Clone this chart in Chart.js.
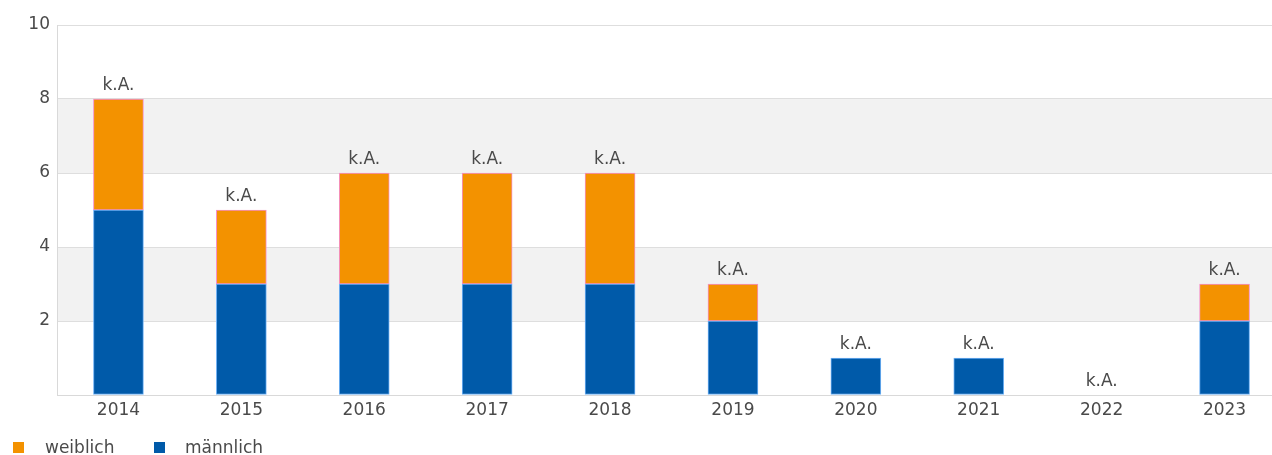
<!DOCTYPE html>
<html lang="de">
<head>
<meta charset="utf-8">
<script src="https://cdn.jsdelivr.net/npm/chart.js@4/dist/chart.umd.min.js"></script>
<style>
  html, body { margin: 0; padding: 0; background: #fff; overflow: hidden; width: 1272px; height: 455px; }
  #wrap { position: relative; width: 1272px; height: 455px; }
  canvas { position: absolute; left: 0; top: 0; }
  .legend { position: absolute; top: 436px; left: 0; font: 17px "DejaVu Sans", sans-serif; color: #4a4a4a; }
  .legend span.item { position: absolute; white-space: nowrap; line-height: 22px; }
  .legend i { position: absolute; top: 6px; width: 11px; height: 11px; }
</style>
</head>
<body>
<div id="wrap">
  <canvas id="chart" width="1286" height="455"></canvas>
  <div class="legend" id="legend"></div>
</div>
<script>
const YEARS = ["2014", "2015", "2016", "2017", "2018", "2019", "2020", "2021", "2022", "2023"];
const WEIBLICH = [3, 2, 3, 3, 3, 1, 0, 0, 0, 1];
const MAENNLICH = [5, 3, 3, 3, 3, 2, 1, 1, 0, 2];
const Y_TICKS = [0, 2, 4, 6, 8, 10];
const NOTE = "k.A.";

const ORANGE = "#f39200";
const BLUE = "#005aa9";
const TEXT = "#4a4a4a";
const FONT = '"DejaVu Sans", sans-serif';

// grey bands behind the grid, between 2-4 and 6-8
const bandPlugin = {
  id: "bands",
  beforeDraw(chart) {
    const { ctx, chartArea, scales } = chart;
    const y = scales.y;
    ctx.save();
    ctx.fillStyle = "#f2f2f2";
    for (const [lo, hi] of [[2, 4], [6, 8]]) {
      const top = y.getPixelForValue(hi);
      const bottom = y.getPixelForValue(lo);
      ctx.fillRect(chartArea.left, top, chartArea.right - chartArea.left, bottom - top);
    }
    ctx.restore();
  },
};

// "k.A." note above each stack
const notePlugin = {
  id: "notes",
  afterDatasetsDraw(chart) {
    const { ctx, scales } = chart;
    ctx.save();
    ctx.font = "17px " + FONT;
    ctx.fillStyle = TEXT;
    ctx.textAlign = "center";
    ctx.textBaseline = "alphabetic";
    YEARS.forEach((_, i) => {
      const total = WEIBLICH[i] + MAENNLICH[i];
      const x = scales.x.getPixelForValue(i);
      const y = scales.y.getPixelForValue(total);
      ctx.fillText(NOTE, x, y - 9);
    });
    ctx.restore();
  },
};

new Chart(document.getElementById("chart"), {
  type: "bar",
  data: {
    labels: YEARS,
    datasets: [
      {
        label: "männlich",
        data: MAENNLICH,
        backgroundColor: BLUE,
        borderColor: "#6fb1f5",
        borderWidth: 1,
        borderSkipped: false,
        barThickness: 50,
        stack: "s",
      },
      {
        label: "weiblich",
        data: WEIBLICH,
        backgroundColor: ORANGE,
        borderColor: "#f58fc8",
        borderWidth: 1,
        borderSkipped: false,
        barThickness: 50,
        stack: "s",
      },
    ],
  },
  options: {
    responsive: false,
    animation: false,
    layout: { padding: { top: 25, right: 0, bottom: 0, left: 0 } },
    plugins: { legend: { display: false }, tooltip: { enabled: false } },
    scales: {
      x: {
        stacked: true,
        grid: { display: false, drawTicks: false },
        border: { color: "#d9d9d9" },
        ticks: { color: TEXT, font: { family: FONT, size: 17 }, padding: 5, maxRotation: 0 },
        afterFit(scale) { scale.height = 60; },
      },
      y: {
        stacked: true,
        min: 0,
        max: 10,
        afterBuildTicks(scale) { scale.ticks = Y_TICKS.map((v) => ({ value: v })); },
        grid: { color: "#dedede", drawTicks: false },
        border: { color: "#d9d9d9" },
        ticks: {
          color: TEXT,
          font: { family: FONT, size: 17 },
          padding: 7,
          callback: (v) => (v === 0 ? "" : v),
        },
        afterFit(scale) { scale.width = 57; },
      },
    },
  },
  plugins: [bandPlugin, notePlugin],
});

// legend below the plot
const LEGEND = [["weiblich", ORANGE, 13, 45], ["männlich", BLUE, 154, 185]];
document.getElementById("legend").innerHTML = LEGEND.map(([name, colour, boxX, textX]) =>
  `<i style="left:${boxX}px;background:${colour}"></i><span class="item" style="left:${textX}px">${name}</span>`
).join("");
</script>
</body>
</html>
